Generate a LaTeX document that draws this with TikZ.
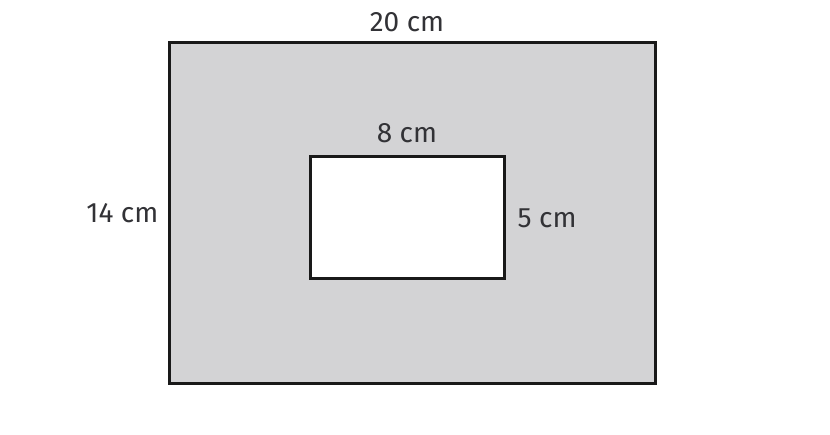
\documentclass[tikz,border=0pt]{standalone}
\usepackage{fontspec}
\setmainfont{Fira Sans}
\usepackage{tikz}
\usetikzlibrary{positioning}
\definecolor{panel}{RGB}{211,211,213}
\definecolor{ink}{RGB}{50,50,54}

\begin{document}
\begin{tikzpicture}[x=1pt, y=1pt,
    box/.style={draw=black!90, line width=3pt, inner sep=0pt},
    dim/.style={inner sep=0pt, text=ink, font=\fontsize{28}{32}\selectfont}]
    \useasboundingbox (0,0) rectangle (830,434);
    \node[box, fill=panel, minimum width=486pt, minimum height=340pt] (outer) at (412,221) {};
    \node[box, fill=white, minimum width=194pt, minimum height=122pt] (inner) at (407,216) {};
    % measures
    \node[dim, anchor=south] (top) at ([yshift=9pt]inner.center |- outer.north) {20 cm};
    \node[dim, above=12pt of inner] (width) {8 cm};
    \node[dim, left=9pt of outer] (height) {14 cm};
    \node[dim, right=12pt of inner] (side) {5 cm};
\end{tikzpicture}
\end{document}
